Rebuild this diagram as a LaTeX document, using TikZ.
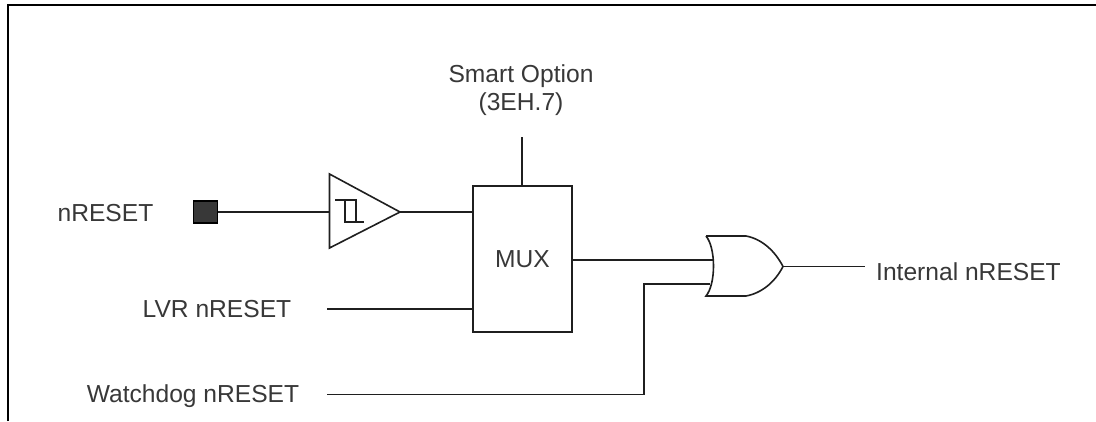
\documentclass[tikz,border=0pt]{standalone}
\usepackage{fontspec}
\setmainfont{Liberation Sans}
\begin{document}
\begin{tikzpicture}[x=1pt,y=-1pt,
  wire/.style={line width=1.6pt,color=black!88},
  frameline/.style={line width=2.4pt,color=black},
  lab/.style={font=\fontsize{24.6}{28}\selectfont,text=black!78,inner sep=0pt,align=center,anchor=base}]
\useasboundingbox (0,0) rectangle (1096,421);
\fill[white] (0,0) rectangle (1096,421);
\coordinate (fbl) at (8,421);
\coordinate (ftl) at (8,5);
\coordinate (ftr) at (1096,5);
\draw[frameline] (fbl) -- (ftl) -- (ftr);
\node[lab] (nreset) at (105.5,221) {nRESET};
\node[lab] (lvr) at (217,317) {LVR nRESET};
\node[lab] (wd) at (193,402) {Watchdog nRESET};
\node[lab,anchor=center] (smart) at (521,90) {Smart Option\\(3EH.7)};
\node[lab] (int) at (968.5,280) {Internal nRESET};
\node[lab] (muxl) at (522.5,267) {MUX};
\node[draw=black!88,line width=1.6pt,minimum width=99pt,minimum height=146pt,inner sep=0pt] (mux) at (522.5,259) {};
\node[fill=black!78,draw=black,line width=1.5pt,minimum width=24pt,minimum height=22pt,inner sep=0pt] (pad) at (205.5,212) {};
\coordinate (bufa) at (329.5,174);
\coordinate (bufb) at (329.5,248);
\coordinate (buft) at (400,212);
\coordinate (bufi) at (329.5,212);
\draw[wire,line join=miter] (bufa) -- (buft) -- (bufb) -- cycle;
\draw[wire] (335,200) -- (356,200) -- (356,222) -- (364,222) (345,200) -- (345,222) -- (356,222);
\coordinate (ortl) at (706,236);
\coordinate (orbl) at (706,296);
\coordinate (ortip) at (783,266.5);
\draw[wire] (ortl) -- (746,236) .. controls (762,239) and (775,251) .. (ortip)
  .. controls (775,282) and (762,293) .. (746,296) -- (orbl)
  .. controls (716,284) and (716,248) .. (ortl);
\coordinate (ori1) at (712.5,260);
\coordinate (ori2) at (710,284);
\coordinate (muxo) at (572,260);
\coordinate (muxi1) at (473,212);
\coordinate (muxi2) at (473,309);
\coordinate (sel) at (522,137);
\coordinate (muxt) at (522,186);
\coordinate (lvre) at (327,309);
\coordinate (wde) at (327,394.5);
\coordinate (wdc) at (644,394.5);
\coordinate (wdt) at (644,284);
\coordinate (inte) at (865,266.5);
\draw[wire] (pad.east) -- (bufi);
\draw[wire] (buft) -- (muxi1);
\draw[wire] (lvre) -- (muxi2);
\draw[wire] (sel) -- (muxt);
\draw[wire] (muxo) -- (ori1);
\draw[wire] (wde) -- (wdc) -- (wdt) -- (ori2);
\draw[wire] (ortip) -- (inte);
\end{tikzpicture}
\end{document}
